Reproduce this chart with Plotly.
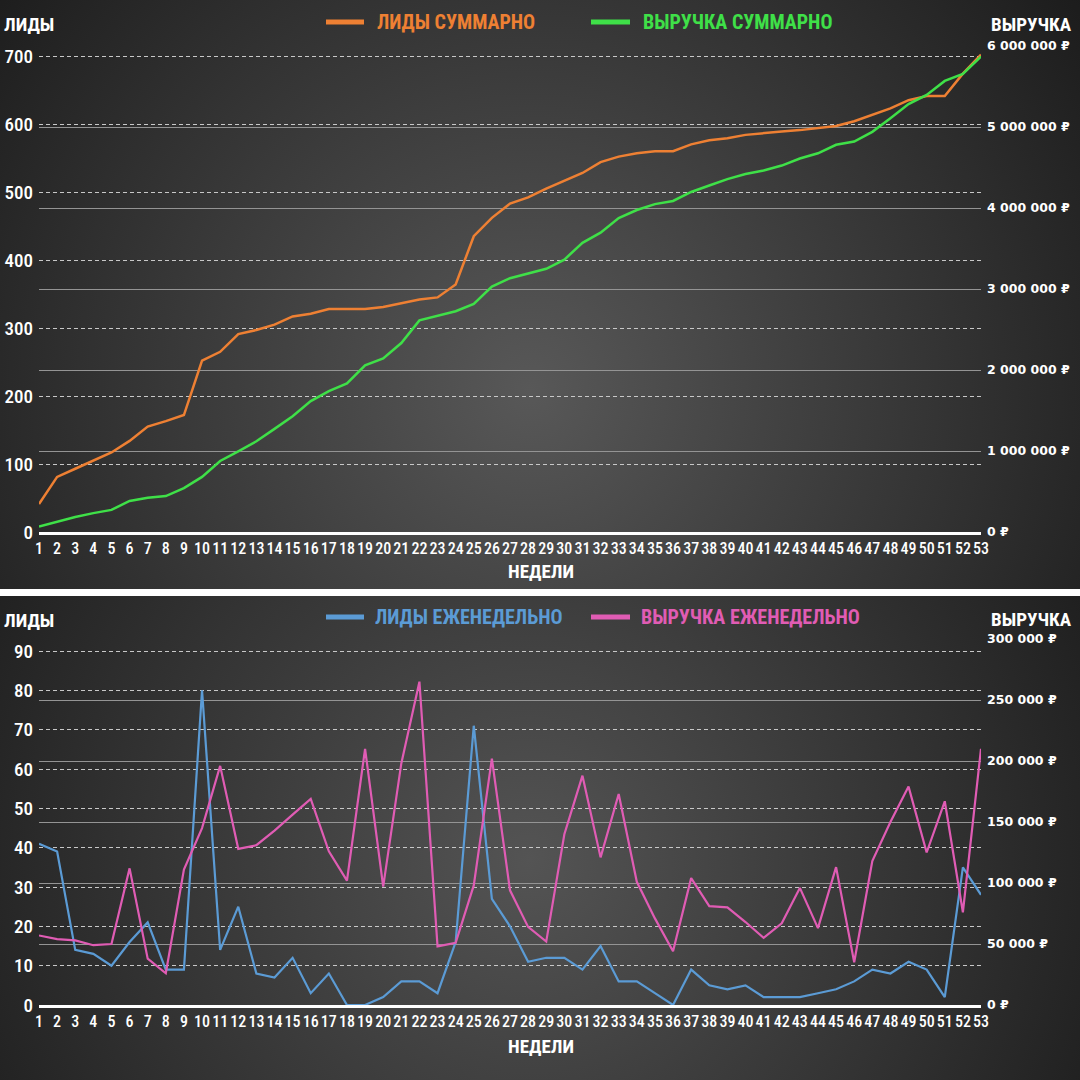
import base64
import plotly.graph_objects as go

# ---------------- data ----------------
weeks = list(range(1, 54))
week_labels = [str(w) for w in weeks]

leads_cum = [41, 81, 93, 105, 117, 134, 155, 163, 172, 252, 265, 291, 297, 305, 317, 321, 328, 328, 328, 331,
             336, 342, 345, 364, 435, 462, 483, 492, 505, 517, 528, 544, 552, 557, 560, 560, 570, 576, 579, 584,
             587, 589, 591, 594, 597, 604, 613, 623, 635, 641, 641, 674, 702]

revenue_cum = [67000, 130000, 186000, 233000, 273000, 383000, 423000, 443000, 542000, 680000, 877000, 996000,
               1120000, 1273000, 1430000, 1616000, 1740000, 1835000, 2058000, 2142000, 2333000, 2613000, 2667000,
               2725000, 2817000, 3030000, 3133000, 3196000, 3250000, 3363000, 3570000, 3696000, 3875000, 3975000,
               4048000, 4087000, 4198000, 4278000, 4357000, 4420000, 4464000, 4524000, 4611000, 4675000, 4780000,
               4820000, 4940000, 5109000, 5283000, 5396000, 5569000, 5655000, 5870000]

leads_week = [41, 39, 14, 13, 10, 16, 21, 9, 9, 80, 14, 25, 8, 7, 12, 3, 8, 0, 0, 2, 6, 6, 3, 16, 71, 27, 20,
              11, 12, 12, 9, 15, 6, 6, 3, 0, 9, 5, 4, 5, 2, 2, 2, 3, 4, 6, 9, 8, 11, 9, 2, 35, 28]

revenue_week = [57000, 54000, 53000, 49000, 50000, 112000, 38000, 26000, 111000, 145000, 196000, 128000, 131000,
                143000, 156000, 169000, 126000, 102000, 210000, 97000, 198000, 265000, 48000, 51000, 98000, 202000,
                94000, 64000, 52000, 140000, 188000, 121000, 173000, 101000, 71000, 44000, 104000, 81000, 80000,
                68000, 55000, 67000, 96000, 63000, 113000, 35000, 118000, 150000, 179000, 125000, 167000, 76000,
                210000]

lead_ticks_top = [0, 100, 200, 300, 400, 500, 600, 700]
lead_labels_top = ["0", "100", "200", "300", "400", "500", "600", "700"]
rev_ticks_top = [0, 1000000, 2000000, 3000000, 4000000, 5000000, 6000000]
rev_labels_top = ["0 ₽", "1 000 000 ₽", "2 000 000 ₽", "3 000 000 ₽", "4 000 000 ₽", "5 000 000 ₽", "6 000 000 ₽"]
lead_ticks_bot = [0, 10, 20, 30, 40, 50, 60, 70, 80, 90]
lead_labels_bot = ["0", "10", "20", "30", "40", "50", "60", "70", "80", "90"]
rev_ticks_bot = [0, 50000, 100000, 150000, 200000, 250000, 300000]
rev_labels_bot = ["0 ₽", "50 000 ₽", "100 000 ₽", "150 000 ₽", "200 000 ₽", "250 000 ₽", "300 000 ₽"]

# ---------------- style ----------------
W = H = 1080
COND = "Roboto Condensed, Roboto, Liberation Sans, sans-serif"
GEO = "DejaVu Sans, Noto Sans, sans-serif"
C_OR, C_GR, C_BL, C_PK = "#EE8033", "#3FE048", "#5B9BD5", "#E05CB4"
DASH_C, SOLID_C = "#c8c8c8", "#949494"

def px_x(p):
    return p / W

def px_y(p):
    return 1 - p / H

X_DOM = [px_x(39), px_x(981)]
TOP_DOM = [px_y(532), px_y(46)]
BOT_DOM = [px_y(1005), px_y(639)]

fig = go.Figure()
fig.add_trace(go.Scatter(x=weeks, y=leads_cum, mode="lines", name="ЛИДЫ СУММАРНО",
                         line=dict(color=C_OR, width=2.5), xaxis="x", yaxis="y"))
fig.add_trace(go.Scatter(x=weeks, y=revenue_cum, mode="lines", name="ВЫРУЧКА СУММАРНО",
                         line=dict(color=C_GR, width=2.5), xaxis="x", yaxis="y2"))
fig.add_trace(go.Scatter(x=weeks, y=leads_week, mode="lines", name="ЛИДЫ ЕЖЕНЕДЕЛЬНО",
                         line=dict(color=C_BL, width=2.2), xaxis="x2", yaxis="y3"))
fig.add_trace(go.Scatter(x=weeks, y=revenue_week, mode="lines", name="ВЫРУЧКА ЕЖЕНЕДЕЛЬНО",
                         line=dict(color=C_PK, width=2.2), xaxis="x2", yaxis="y4"))

xcommon = dict(domain=X_DOM, range=[1, 53], tickmode="array", tickvals=weeks, ticktext=week_labels,
               tickangle=0, showgrid=False, zeroline=False, showline=True, linecolor="#ffffff", linewidth=3,
               ticks="", tickfont=dict(family=COND, size=16, color="#ffffff", weight=500), automargin=False,
               fixedrange=True)
left_common = dict(showgrid=True, gridcolor=DASH_C, gridwidth=1, griddash="4px,3px", zeroline=False,
                   showline=False, ticks="", ticklen=0, tickfont=dict(family=COND, size=19, color="#ffffff", weight=500),
                   automargin=False, ticklabelstandoff=5)
right_common = dict(side="right", showgrid=True, gridcolor=SOLID_C, gridwidth=1.3, zeroline=False,
                    showline=False, ticks="", ticklen=0, tickfont=dict(family=GEO, size=12.5, color="#ffffff", weight=700),
                    automargin=False, ticklabelstandoff=5)

# background: radial gradients + white separator band
svg = f'''<svg xmlns="http://www.w3.org/2000/svg" width="{W}" height="{H}" viewBox="0 0 {W} {H}">
<defs>
<radialGradient id="a" gradientUnits="userSpaceOnUse" cx="530" cy="390" r="700">
<stop offset="0" stop-color="#585858"/><stop offset="1" stop-color="#1a1a1a"/></radialGradient>
<radialGradient id="b" gradientUnits="userSpaceOnUse" cx="530" cy="860" r="680">
<stop offset="0" stop-color="#545454"/><stop offset="1" stop-color="#1a1a1a"/></radialGradient>
</defs>
<rect x="0" y="0" width="{W}" height="589" fill="url(#a)"/>
<rect x="0" y="589" width="{W}" height="7" fill="#ffffff"/>
<rect x="0" y="596" width="{W}" height="{H - 596}" fill="url(#b)"/>
</svg>'''
bg_uri = "data:image/svg+xml;base64," + base64.b64encode(svg.encode("utf-8")).decode("ascii")

annotations = []
def label(text, x, y, size, color="#ffffff", xanchor="left", family=COND):
    annotations.append(dict(text=text, x=px_x(x), y=px_y(y), xref="paper", yref="paper",
                            xanchor=xanchor, yanchor="middle", showarrow=False,
                            font=dict(family=family, size=size, color=color, weight=700)))

# axis titles
label("ЛИДЫ", 2, 24, 19)
label("ВЫРУЧКА", 989, 24, 19)
label("НЕДЕЛИ", 541, 571, 19, xanchor="center")
label("ЛИДЫ", 2, 620, 19)
label("ВЫРУЧКА", 989, 619, 19)
label("НЕДЕЛИ", 541, 1046, 19, xanchor="center")
# legend texts
label("ЛИДЫ СУММАРНО", 375, 22, 20, C_OR)
label("ВЫРУЧКА СУММАРНО", 641, 22, 20, C_GR)
label("ЛИДЫ ЕЖЕНЕДЕЛЬНО", 373, 617, 20, C_BL)
label("ВЫРУЧКА ЕЖЕНЕДЕЛЬНО", 639, 617, 20, C_PK)

shapes = []
for x0, x1, y, c in [(326, 364, 22, C_OR), (591, 630, 22, C_GR), (326, 364, 617, C_BL), (591, 630, 617, C_PK)]:
    shapes.append(dict(type="line", xref="paper", yref="paper", x0=px_x(x0), x1=px_x(x1), y0=px_y(y), y1=px_y(y),
                       line=dict(color=c, width=5)))

fig.update_layout(
    width=W, height=H, margin=dict(l=0, r=0, t=0, b=0, pad=0),
    paper_bgcolor="#2a2a2a", plot_bgcolor="rgba(0,0,0,0)", showlegend=False,
    images=[dict(source=bg_uri, xref="paper", yref="paper", x=0, y=1, sizex=1, sizey=1,
                 xanchor="left", yanchor="top", sizing="stretch", layer="below")],
    xaxis=dict(anchor="y", **xcommon),
    xaxis2=dict(anchor="y3", **xcommon),
    yaxis=dict(domain=TOP_DOM, anchor="x", range=[0, 714.7], tickmode="array",
               tickvals=lead_ticks_top, ticktext=lead_labels_top, **left_common),
    yaxis2=dict(domain=TOP_DOM, anchor="x", overlaying="y", range=[0, 6000000], tickmode="array",
                tickvals=rev_ticks_top, ticktext=rev_labels_top, **right_common),
    yaxis3=dict(domain=BOT_DOM, anchor="x2", range=[0, 93.05], tickmode="array",
                tickvals=lead_ticks_bot, ticktext=lead_labels_bot, **left_common),
    yaxis4=dict(domain=BOT_DOM, anchor="x2", overlaying="y3", range=[0, 300000], tickmode="array",
                tickvals=rev_ticks_bot, ticktext=rev_labels_bot, **right_common),
    annotations=annotations, shapes=shapes,
)

fig.write_html("out.html", config={"displayModeBar": False},
               post_script="document.body.style.margin='0px';")
